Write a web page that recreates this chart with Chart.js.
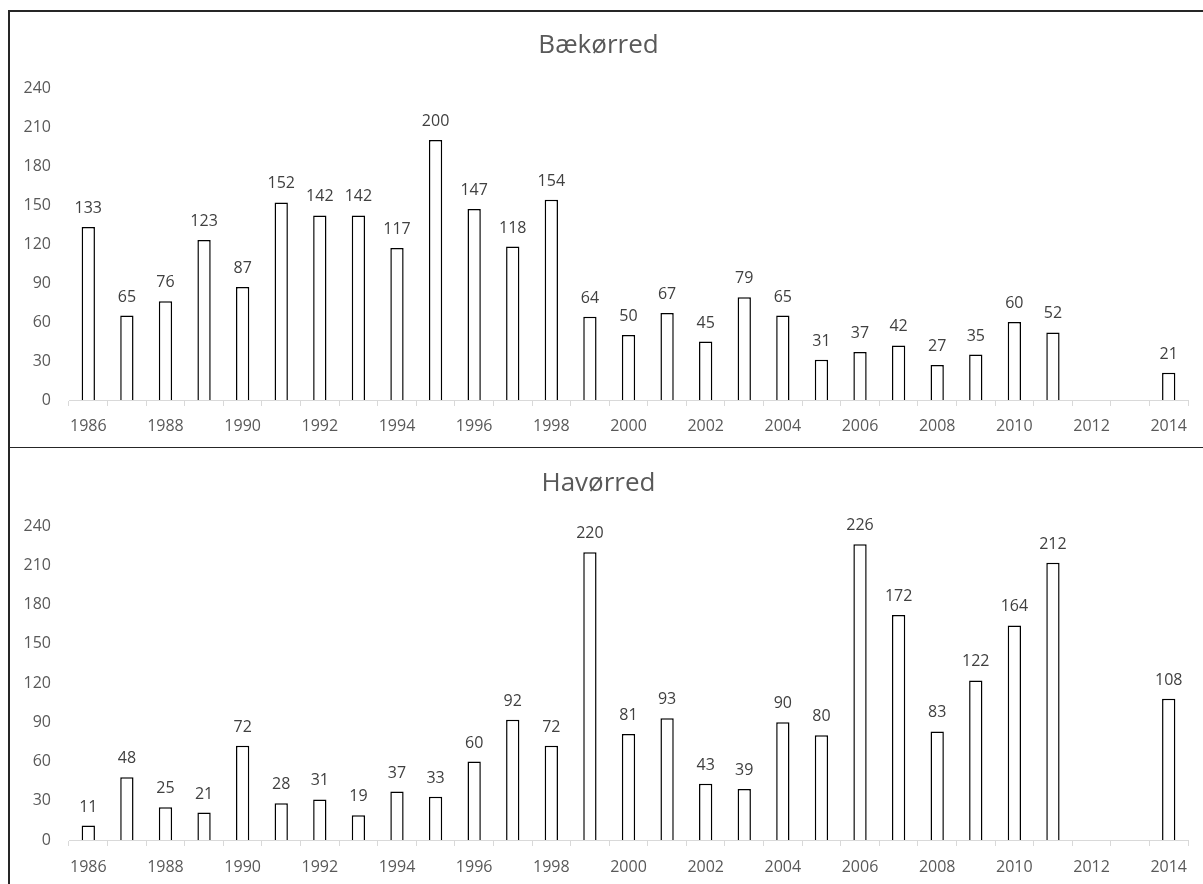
<!DOCTYPE html>
<html>
<head>
<meta charset="utf-8">
<script src="https://cdn.jsdelivr.net/npm/chart.js@4.4.0/dist/chart.umd.min.js"></script>
<style>
  html, body { margin: 0; padding: 0; background: #fff; }
  body { width: 1203px; height: 884px; position: relative; overflow: hidden; }
  .box { position: absolute; left: 9px; width: 1194px; }
  .line { position: absolute; background: #262626; }
</style>
</head>
<body>
<div class="box" style="top:10px;height:438px"><canvas id="topChart"></canvas></div>
<div class="box" style="top:448px;height:436px"><canvas id="bottomChart"></canvas></div>
<div class="line" style="left:8px;top:10px;width:1195px;height:1.5px"></div>
<div class="line" style="left:8px;top:10px;width:1.5px;height:874px"></div>
<div class="line" style="left:8px;top:446.5px;width:1195px;height:1.5px"></div>
<script>
// years on the x axis (2012 and 2013 have no count)
const years = ['1986', '1987', '1988', '1989', '1990', '1991', '1992', '1993', '1994', '1995',
  '1996', '1997', '1998', '1999', '2000', '2001', '2002', '2003', '2004', '2005',
  '2006', '2007', '2008', '2009', '2010', '2011', '2012', '2013', '2014'];

const baekorred = [133, 65, 76, 123, 87, 152, 142, 142, 117, 200,
  147, 118, 154, 64, 50, 67, 45, 79, 65, 31,
  37, 42, 27, 35, 60, 52, null, null, 21];

const havorred = [11, 48, 25, 21, 72, 28, 31, 19, 37, 33,
  60, 92, 72, 220, 81, 93, 43, 39, 90, 80,
  226, 172, 83, 122, 164, 212, null, null, 108];

const yTicks = [0, 30, 60, 90, 120, 150, 180, 210, 240];

const textColor = '#595959';
const fontFamily = "'Open Sans', sans-serif";

// values written above each bar
const barLabels = {
  id: 'barLabels',
  afterDatasetsDraw(chart) {
    const ctx = chart.ctx;
    const values = chart.data.datasets[0].data;
    ctx.save();
    ctx.fillStyle = '#404040';
    ctx.font = '16px ' + fontFamily;
    ctx.textAlign = 'center';
    ctx.textBaseline = 'alphabetic';
    chart.getDatasetMeta(0).data.forEach((bar, i) => {
      if (values[i] == null) return;
      ctx.fillText(values[i], bar.x, bar.y - 14);
    });
    ctx.restore();
  }
};

const makeChart = (id, title, values, axisHeight, labelPad) => {
  return new Chart(document.getElementById(id), {
    type: 'bar',
    data: {
      labels: years,
      datasets: [{
        data: values,
        backgroundColor: '#ffffff',
        borderColor: '#000000',
        borderWidth: 1.5,
        barPercentage: 0.345,
        categoryPercentage: 1
      }]
    },
    options: {
      responsive: true,
      maintainAspectRatio: false,
      animation: false,
      layout: { padding: { left: 0, right: 15, top: 0, bottom: 0 } },
      plugins: {
        legend: { display: false },
        tooltip: { enabled: false },
        title: {
          display: true,
          text: title,
          color: textColor,
          font: { family: fontFamily, size: 26, weight: 'normal' },
          padding: { top: 20, bottom: 26.8 }
        }
      },
      scales: {
        x: {
          grid: {
            display: true,
            drawOnChartArea: false,
            drawTicks: true,
            tickLength: 6,
            color: '#d9d9d9',
            offset: true
          },
          border: { display: true, color: '#d9d9d9', width: 1 },
          ticks: {
            autoSkip: false,
            maxRotation: 0,
            padding: labelPad,
            color: textColor,
            font: { family: fontFamily, size: 16 },
            callback: (v, i) => (i % 2 === 0 ? years[i] : '')
          },
          afterFit: (scale) => { scale.height = axisHeight; }
        },
        y: {
          min: 0,
          max: 240,
          grid: { display: false, drawTicks: false },
          border: { display: false },
          afterBuildTicks: (scale) => { scale.ticks = yTicks.map(v => ({ value: v })); },
          ticks: {
            padding: 18,
            color: textColor,
            font: { family: fontFamily, size: 16 }
          },
          afterFit: (scale) => { scale.width = 60; }
        }
      }
    },
    plugins: [barLabels]
  });
};

makeChart('topChart', 'Bækørred', baekorred, 48, 11);
makeChart('bottomChart', 'Havørred', havorred, 44, 12);
</script>
</body>
</html>
